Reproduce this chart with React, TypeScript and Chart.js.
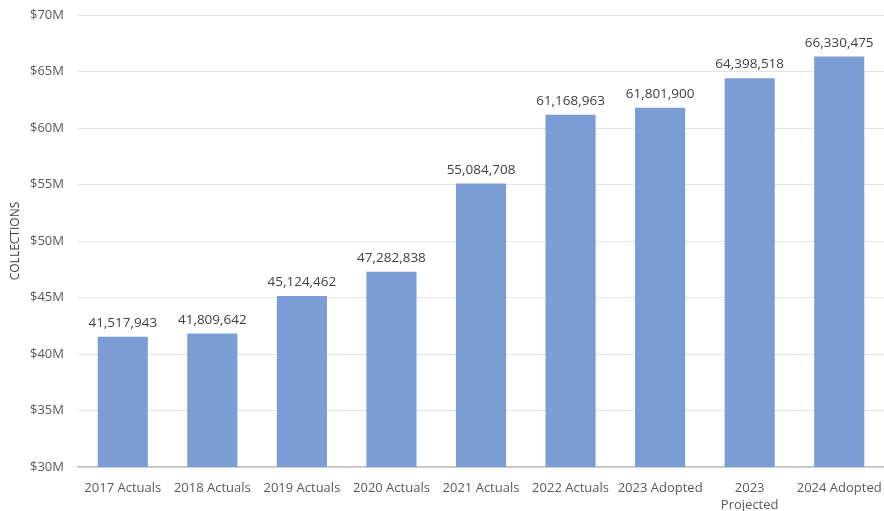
import React, { useEffect, useRef } from "react";
import { Chart, registerables } from "chart.js";

Chart.register(...registerables);

const categories: (string | string[])[] = [
  "2017 Actuals",
  "2018 Actuals",
  "2019 Actuals",
  "2020 Actuals",
  "2021 Actuals",
  "2022 Actuals",
  "2023 Adopted",
  ["2023", "Projected"],
  "2024 Adopted",
];
const collections: number[] = [
  41517943, 41809642, 45124462, 47282838, 55084708, 61168963, 61801900, 64398518, 66330475,
];
const yMin = 30000000;
const yMax = 70000000;
const yStep = 5000000;

const FONT = "'Open Sans', 'Liberation Sans', sans-serif";

const labelPlugin = {
  id: "barLabels",
  afterDatasetsDraw(chart: any) {
    const ctx = chart.ctx;
    const meta = chart.getDatasetMeta(0);
    ctx.save();
    ctx.font = `13.5px ${FONT}`;
    ctx.fillStyle = "#404040";
    ctx.textAlign = "center";
    ctx.textBaseline = "bottom";
    meta.data.forEach((bar: any, i: number) => {
      const v = chart.data.datasets[0].data[i] as number;
      ctx.fillText(v.toLocaleString("en-US"), bar.x, bar.y - 7);
    });
    ctx.restore();
  },
};

export default function App() {
  const ref = useRef<HTMLCanvasElement>(null);
  useEffect(() => {
    if (!ref.current) return;
    const chart = new Chart(ref.current, {
      type: "bar",
      data: {
        labels: categories,
        datasets: [
          {
            data: collections,
            backgroundColor: "#7a9dd6",
            categoryPercentage: 1,
            barPercentage: 0.56,
          },
        ],
      },
      options: {
        animation: false,
        responsive: false,
        maintainAspectRatio: false,
        layout: { padding: { top: 15, right: 0, left: 0, bottom: 0 } },
        plugins: { legend: { display: false }, tooltip: { enabled: false } },
        scales: {
          y: {
            min: yMin,
            max: yMax,
            ticks: {
              stepSize: yStep,
              padding: 14,
              color: "#595959",
              font: { family: FONT, size: 13 },
              callback: (v: any) => "$" + Number(v) / 1000000 + "M",
            },
            grid: { color: "#e3e3e3", drawTicks: false, lineWidth: 1 },
            border: { display: false },
            title: {
              display: true,
              text: "COLLECTIONS",
              color: "#404040",
              font: { family: FONT, size: 12 },
              padding: { top: 8, bottom: 0 },
            },
            afterFit: (scale: any) => {
              scale.width = 78;
              scale.paddingTop = 0;
              scale.paddingBottom = 0;
            },
          },
          x: {
            ticks: {
              color: "#595959",
              font: { family: FONT, size: 13, lineHeight: 1.3 },
              padding: 13,
              maxRotation: 0,
              autoSkip: false,
            },
            grid: { display: false, drawTicks: false },
            border: { display: true, color: "#bfbfbf", width: 1.5 },
            afterFit: (scale: any) => {
              scale.height = 44;
              scale.paddingLeft = 0;
              scale.paddingRight = 0;
            },
          },
        },
      },
      plugins: [labelPlugin],
    });
    return () => chart.destroy();
  }, []);
  return (
    <div style={{ position: "absolute", left: 0, top: 0, width: 884, height: 511, background: "#fff" }}>
      <canvas ref={ref} width={884} height={511} />
    </div>
  );
}
